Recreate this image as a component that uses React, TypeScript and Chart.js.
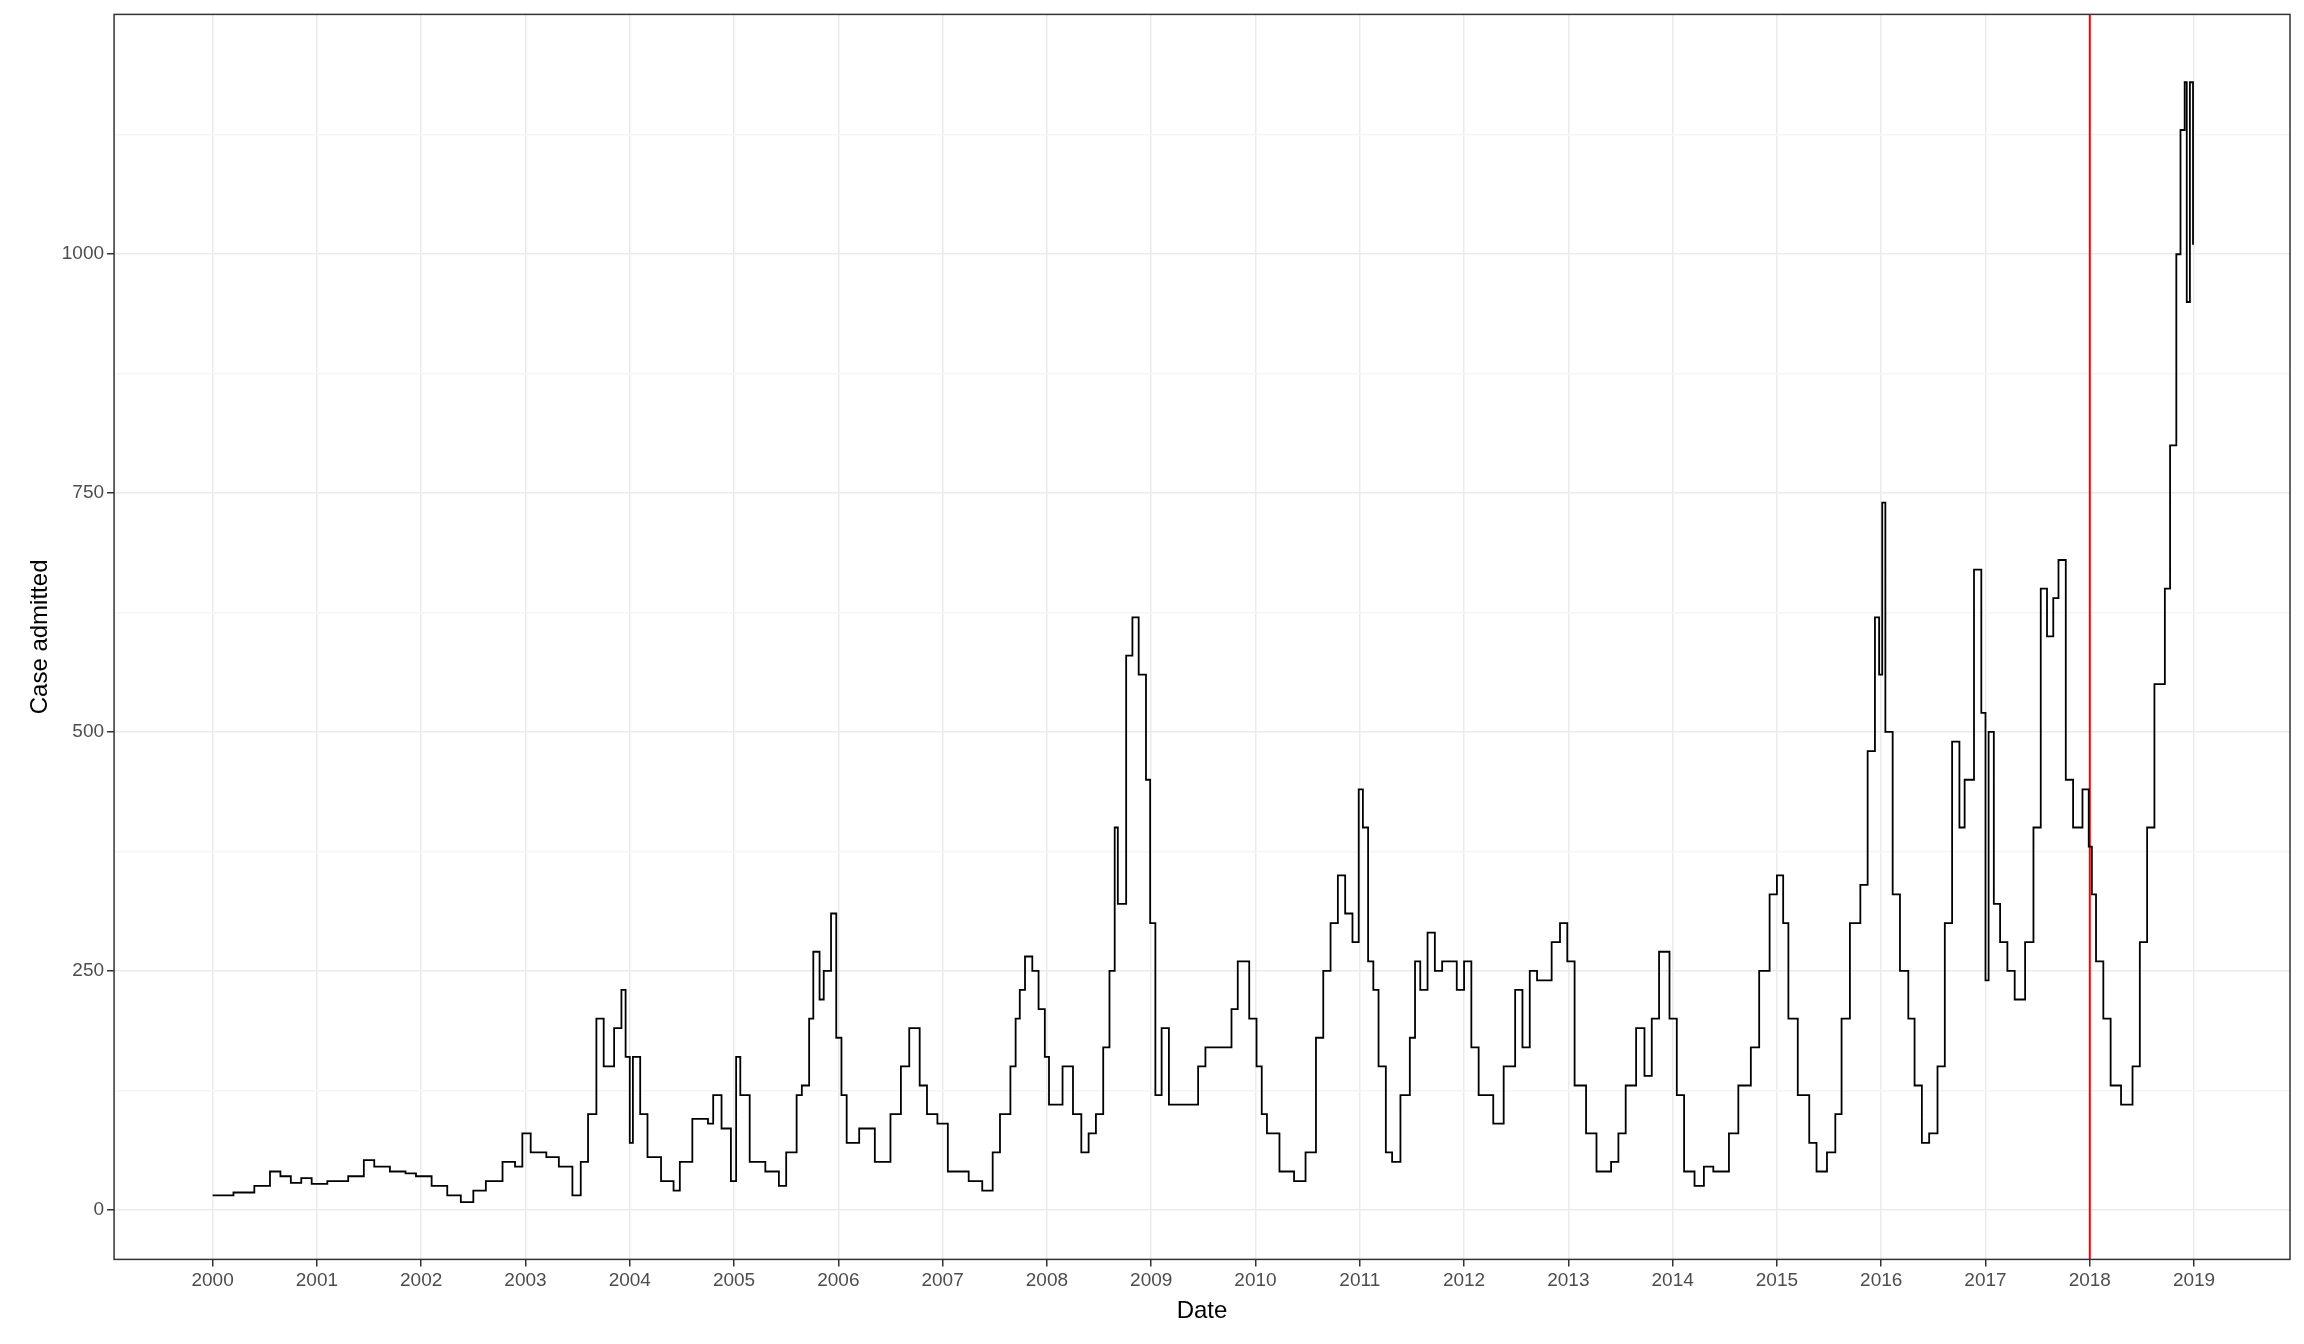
import React, { useEffect, useRef } from "react";
import { Chart, registerables } from "chart.js";
Chart.register(...registerables);

const dates: number[] = [
  2000.0,2000.2,2000.4,2000.55,2000.65,2000.75,2000.85,2000.95,
  2001.1,2001.3,2001.45,2001.55,2001.7,2001.85,2001.95,
  2002.1,2002.25,2002.38,2002.5,2002.62,2002.78,2002.9,2002.97,
  2003.05,2003.2,2003.32,2003.45,2003.53,2003.6,2003.68,2003.75,2003.85,2003.92,2003.96,
  2004.0,2004.03,2004.1,2004.17,2004.3,2004.42,2004.48,2004.6,2004.75,2004.8,2004.88,2004.97,
  2005.02,2005.06,2005.15,2005.3,2005.43,2005.5,2005.6,2005.65,2005.72,2005.76,2005.82,2005.86,2005.93,2005.98,
  2006.03,2006.08,2006.2,2006.35,2006.5,2006.6,2006.68,2006.78,2006.85,2006.95,
  2007.05,2007.25,2007.38,2007.48,2007.55,2007.65,2007.7,2007.74,2007.79,2007.86,2007.92,2007.98,
  2008.02,2008.15,2008.25,2008.33,2008.4,2008.47,2008.54,2008.6,2008.65,2008.68,2008.76,2008.82,2008.88,2008.95,2008.99,
  2009.04,2009.1,2009.17,2009.3,2009.45,2009.52,2009.66,2009.77,2009.83,2009.94,
  2010.01,2010.06,2010.11,2010.23,2010.37,2010.48,2010.58,2010.65,2010.72,2010.79,2010.86,2010.93,2010.99,
  2011.03,2011.08,2011.13,2011.18,2011.25,2011.31,2011.39,2011.48,2011.53,2011.58,2011.65,2011.72,2011.79,2011.93,
  2012.0,2012.07,2012.14,2012.28,2012.38,2012.49,2012.56,2012.63,2012.7,2012.84,2012.92,2012.99,
  2013.06,2013.17,2013.27,2013.41,2013.48,2013.55,2013.65,2013.73,2013.8,2013.87,2013.97,
  2014.04,2014.11,2014.21,2014.3,2014.39,2014.54,2014.63,2014.75,2014.83,2014.93,
  2015.0,2015.06,2015.11,2015.2,2015.31,2015.38,2015.48,2015.56,2015.62,2015.7,2015.8,2015.87,2015.94,2015.98,
  2016.01,2016.04,2016.11,2016.18,2016.26,2016.32,2016.39,2016.46,2016.54,2016.61,2016.68,2016.75,2016.8,2016.89,2016.96,
  2017.0,2017.03,2017.08,2017.14,2017.21,2017.28,2017.38,2017.46,2017.53,2017.59,2017.65,2017.7,2017.77,2017.84,2017.93,2017.99,
  2018.02,2018.06,2018.13,2018.2,2018.3,2018.41,2018.48,2018.55,2018.62,2018.72,2018.77,2018.83,2018.87,2018.91,2018.93,2018.96,2018.99,
];
const cases: number[] = [
  15,18,25,40,35,28,33,27,
  30,35,52,45,40,38,35,
  25,15,8,20,30,50,45,80,
  60,55,45,15,50,100,200,150,190,230,160,
  70,160,100,55,30,20,50,95,90,120,85,30,
  160,120,50,40,25,60,120,130,200,270,220,250,310,180,
  120,70,85,50,100,150,190,130,100,90,
  40,30,20,60,100,150,200,230,265,250,210,160,
  110,150,100,60,80,100,170,250,400,320,580,620,560,450,300,
  120,190,110,110,150,170,170,210,260,200,
  150,100,80,40,30,60,180,250,300,350,310,280,440,
  400,260,230,150,60,50,120,180,260,230,290,250,260,230,
  260,170,120,90,150,230,170,250,240,280,300,260,
  130,80,40,50,80,130,190,140,200,270,200,
  120,40,25,45,40,80,130,170,250,330,
  350,300,200,120,70,40,60,100,200,300,340,480,620,560,
  740,500,330,250,200,130,70,80,150,300,490,400,450,670,520,
  240,500,320,280,250,220,280,400,650,600,640,680,450,400,440,380,
  330,260,200,130,110,150,280,400,550,650,800,1000,1130,1180,950,1180,1010,
];
const yearTicks: number[] = Array.from({ length: 20 }, (_, i) => 2000 + i);
const yTicks: number[] = [0, 125, 250, 375, 500, 625, 750, 875, 1000, 1125];
const cutoffYear = 2018;

export default function App() {
  const ref = useRef<HTMLCanvasElement>(null);
  useEffect(() => {
    document.body.style.margin = "0";
    const border = {
      id: "border",
      afterDraw(c: any) {
        const { left, top, right, bottom } = c.chartArea;
        const ctx = c.ctx;
        ctx.save();
        ctx.strokeStyle = "#333333";
        ctx.lineWidth = 1.5;
        ctx.strokeRect(left, top, right - left, bottom - top);
        ctx.restore();
      },
    };
    const chart = new Chart(ref.current!, {
      type: "line",
      data: {
        datasets: [
          {
            data: dates.map((d, i) => ({ x: d, y: cases[i] })),
            borderColor: "#000",
            borderWidth: 1.8,
            pointRadius: 0,
            stepped: "before",
          },
          {
            data: [{ x: cutoffYear, y: -52 }, { x: cutoffYear, y: 1251 }],
            borderColor: "#ff0000",
            borderWidth: 2,
            pointRadius: 0,
          },
        ],
      },
      options: {
        animation: false,
        responsive: false,
        plugins: { legend: { display: false }, tooltip: { enabled: false } },
        layout: { padding: { top: 9, right: 14, left: 22, bottom: 14 } },
        scales: {
          x: {
            type: "linear",
            min: 1999.055,
            max: 2019.92,
            afterBuildTicks: (s: any) => { s.ticks = yearTicks.map((v) => ({ value: v })); },
            grid: { color: "#ebebeb", lineWidth: 1.5, tickColor: "#333", tickLength: 7 },
            border: { display: false },
            ticks: { color: "#4d4d4d", font: { size: 19, family: "Liberation Sans" }, maxRotation: 0, callback: (v: any) => String(v) },
            title: { display: true, text: "Date", color: "#000", font: { size: 24, family: "Liberation Sans" }, padding: { top: 2 } },
          },
          y: {
            min: -52,
            max: 1251,
            afterBuildTicks: (s: any) => { s.ticks = yTicks.map((v) => ({ value: v })); },
            grid: {
              color: (c: any) => (c.tick && c.tick.value % 250 === 0 ? "#ebebeb" : "#f5f5f5"),
              tickColor: (c: any) => (c.tick && c.tick.value % 250 === 0 ? "#333" : "rgba(0,0,0,0)"),
              lineWidth: 1.5,
              tickLength: 7,
            },
            border: { display: false },
            ticks: {
              color: "#4d4d4d",
              font: { size: 19, family: "Liberation Sans" },
              callback: (v: any) => (v % 250 === 0 ? String(v) : ""),
            },
            title: { display: true, text: "Case admitted", color: "#000", font: { size: 24, family: "Liberation Sans" } },
          },
        },
      },
      plugins: [border],
    });
    return () => chart.destroy();
  }, []);
  return <canvas ref={ref} width={2304} height={1344} style={{ display: "block" }} />;
}
